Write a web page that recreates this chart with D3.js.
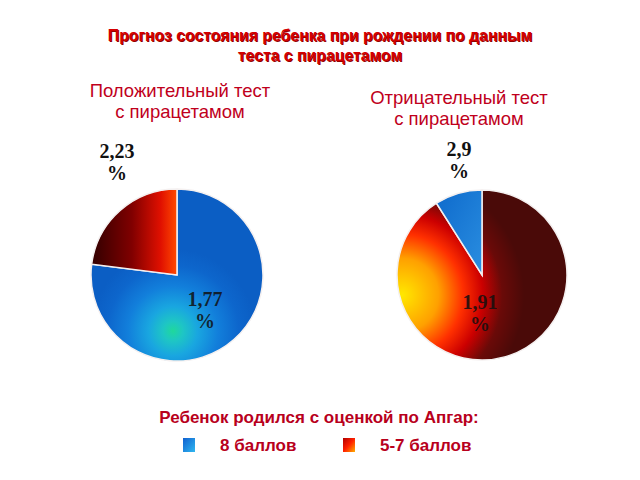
<!DOCTYPE html>
<html>
<head>
<meta charset="utf-8">
<script src="https://cdn.jsdelivr.net/npm/d3@7"></script>
<style>
  body { margin: 0; background: #fff; }
  svg { display: block; }
</style>
</head>
<body>
<div id="container"></div>
<script>
// data
const titleLines = ["Прогноз состояния ребенка при рождении по данным", "теста с пирацетамом"]
const pieTitles = [["Положительный тест", "с пирацетамом"], ["Отрицательный тест", "с пирацетамом"]]
const categories = ["8 баллов", "5-7 баллов"]
const positiveValues = [77, 23]
const negativeValues = [9, 91]
const positiveLabels = ["1,77 %", "2,23 %"]
const negativeLabels = ["2,9 %", "1,91 %"]
const legendTitle = "Ребенок родился с оценкой по Апгар:"

const width = 640, height = 480
const svg = d3.select("#container").append("svg")
  .attr("width", width).attr("height", height)

const defs = svg.append("defs")

// gradients (coords are relative to each pie centre)
function linGrad(id, x1, y1, x2, y2, stops, units) {
  const g = defs.append("linearGradient").attr("id", id)
    .attr("x1", x1).attr("y1", y1).attr("x2", x2).attr("y2", y2)
  if (units) g.attr("gradientUnits", units)
  stops.forEach(s => g.append("stop").attr("offset", s[0]).attr("stop-color", s[1]))
}
function radGrad(id, cx, cy, r, stops) {
  const g = defs.append("radialGradient").attr("id", id)
    .attr("gradientUnits", "userSpaceOnUse")
    .attr("cx", cx).attr("cy", cy).attr("r", r)
  stops.forEach(s => g.append("stop").attr("offset", s[0]).attr("stop-color", s[1]))
}

radGrad("posBlue", -4, 56, 82, [[0, "#1fd89c"], [0.12, "#1ec6c4"], [0.3, "#19a6e0"], [0.55, "#127fdb"], [0.8, "#0d66cc"], [1, "#0b5ec4"]])
linGrad("posRed", -82, 0, 0, 0, [[0, "#380000"], [0.45, "#800000"], [0.8, "#e01000"], [1, "#ff4a00"]], "userSpaceOnUse")
radGrad("negRed", -80, 20, 122, [[0, "#ffe800"], [0.3, "#ffa000"], [0.5, "#ff3000"], [0.66, "#cc0000"], [0.82, "#6a0a08"], [1, "#4a0a08"]])
linGrad("negBlue", 0, 0, 1, 1, [[0, "#0e6acc"], [1, "#2a8ee0"]])
linGrad("legBlue", 0, 0, 1, 1, [[0, "#1060d0"], [1, "#30b8f0"]])
linGrad("legRed", 0, 0, 1, 1, [[0, "#b00000"], [0.5, "#ff2000"], [1, "#ffb000"]])

// title
const title = svg.append("g")
titleLines.forEach((t, i) => {
  title.append("text").attr("x", 321).attr("y", 41 + i * 20 + 1)
    .attr("text-anchor", "middle").attr("fill", "#900000")
    .style("font", "bold 15.8px 'Liberation Sans', Arial, sans-serif").text(t)
  title.append("text").attr("x", 320).attr("y", 41 + i * 20)
    .attr("text-anchor", "middle").attr("fill", "#d40000")
    .style("font", "bold 15.8px 'Liberation Sans', Arial, sans-serif").text(t)
})

const pies = [
  { cx: 177, cy: 275, r: 86, values: positiveValues, labels: positiveLabels, order: [0, 1],
    titleX: 180, titleY: 97,
    fills: ["url(#posBlue)", "url(#posRed)"],
    labelPos: [[28, 31], [-60, -117]] },
  { cx: 482, cy: 275, r: 85, values: negativeValues, labels: negativeLabels, order: [1, 0],
    titleX: 459, titleY: 104,
    fills: ["url(#negBlue)", "url(#negRed)"],
    labelPos: [[-23, -119], [-2, 34]] }
]

const pie = d3.pie().sort(null).value(d => d.value)

pies.forEach((p, pi) => {
  const g = svg.append("g").attr("transform", `translate(${p.cx},${p.cy})`)
  const data = p.order.map(i => ({ value: p.values[i], idx: i }))
  const arc = d3.arc().innerRadius(0).outerRadius(p.r)

  g.selectAll("path").data(pie(data)).enter().append("path")
    .attr("d", arc)
    .attr("fill", d => p.fills[d.data.idx])
    .attr("stroke", "#f4f0f0").attr("stroke-width", 1.5)

  // header
  pieTitles[pi].forEach((t, i) => {
    svg.append("text").attr("x", p.titleX).attr("y", p.titleY + i * 21)
      .attr("text-anchor", "middle").attr("fill", "#c0001c")
      .style("font", "18.5px 'Liberation Sans', Arial, sans-serif").text(t)
  })

  // value labels
  p.labels.forEach((lab, i) => {
    const parts = lab.split(" ")
    const t = g.append("text")
      .attr("text-anchor", "middle")
      .attr("fill", "#111")
      .attr("fill-opacity", p.labelPos[i][1] > 0 ? 0.85 : 1)
      .style("font", "bold 20px 'Liberation Serif', 'Times New Roman', serif")
    parts.forEach((s, k) => {
      t.append("tspan").attr("x", p.labelPos[i][0])
        .attr("y", p.labelPos[i][1] + k * 22).text(s)
    })
  })
})

// legend
svg.append("text").attr("x", 319).attr("y", 423).attr("text-anchor", "middle")
  .attr("fill", "#b8001c")
  .style("font", "bold 17px 'Liberation Sans', Arial, sans-serif").text(legendTitle)

const legendX = [183, 343]
categories.forEach((c, i) => {
  svg.append("rect").attr("x", legendX[i]).attr("y", 438).attr("width", 12).attr("height", 14)
    .attr("fill", i === 0 ? "url(#legBlue)" : "url(#legRed)")
  svg.append("text").attr("x", legendX[i] + 37).attr("y", 451)
    .attr("fill", "#b8001c")
    .style("font", "bold 17px 'Liberation Sans', Arial, sans-serif").text(c)
})
</script>
</body>
</html>
